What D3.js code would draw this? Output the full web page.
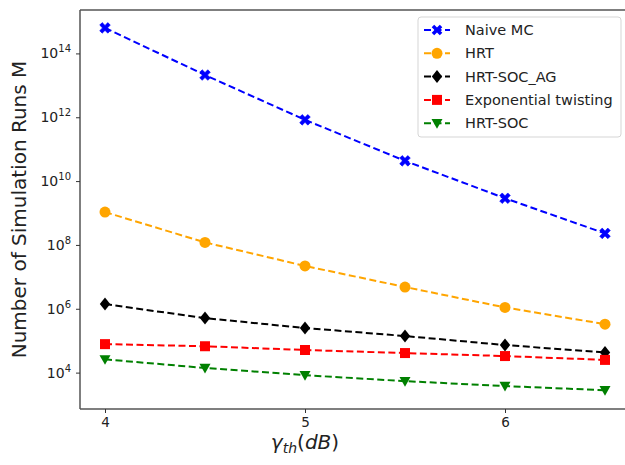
<!DOCTYPE html>
<html>
<head>
<meta charset="utf-8">
<script src="https://cdn.jsdelivr.net/npm/d3@7"></script>
<style>
  body { margin: 0; background: #fff; }
  svg { display: block; font-family: "DejaVu Sans", sans-serif; }
</style>
</head>
<body>
<svg id="chart" width="625" height="465"></svg>
<script>
// Threshold values (dB)
const xValues = [4, 4.5, 5, 5.5, 6, 6.5];

// Number of simulation runs per method
const naiveMC   = [6.3e14, 2.1e13, 8.3e11, 4.3e10, 2.9e9, 2.3e8];
const hrt       = [1.07e9, 1.2e8, 2.2e7, 4.8e6, 1.1e6, 3.3e5];
const hrtSocAg  = [1.4e6, 5.1e5, 2.5e5, 1.4e5, 7.3e4, 4.3e4];
const expTwist  = [7.8e4, 6.7e4, 5.1e4, 4.1e4, 3.3e4, 2.5e4];
const hrtSoc    = [2.6e4, 1.4e4, 8.3e3, 5.4e3, 3.8e3, 2.8e3];

const seriesNames = ["Naive MC", "HRT", "HRT-SOC_AG", "Exponential twisting", "HRT-SOC"];
const xTicks = [4, 5, 6];
const yTickExponents = [4, 6, 8, 10, 12, 14];

const series = [
  { name: seriesNames[0], values: naiveMC,  color: "#0000ff", marker: "x" },
  { name: seriesNames[1], values: hrt,      color: "#ffa500", marker: "circle" },
  { name: seriesNames[2], values: hrtSocAg, color: "#000000", marker: "diamond" },
  { name: seriesNames[3], values: expTwist, color: "#ff0000", marker: "square" },
  { name: seriesNames[4], values: hrtSoc,   color: "#008000", marker: "triangleDown" }
];

const svg = d3.select("#chart");
const plotLeft = 80, plotRight = 630, plotTop = 10, plotBottom = 409;

const x = d3.scaleLinear().domain([3.875, 6.625]).range([plotLeft, plotRight]);
const y = d3.scaleLog().domain([Math.pow(10, 2.86), Math.pow(10, 15.36)]).range([plotBottom, plotTop]);

// Marker path generators centred on (0,0)
function markerPath(type) {
  switch (type) {
    case "x": {
      const a = 5.3, w = 2.5;
      // filled X shape (thick cross rotated 45°)
      const pts = [
        [-a + w, -a], [0, -w], [a - w, -a], [a, -a + w], [w, 0], [a, a - w],
        [a - w, a], [0, w], [-a + w, a], [-a, a - w], [-w, 0], [-a, -a + w]
      ];
      return "M" + pts.map(p => p.join(",")).join("L") + "Z";
    }
    case "circle":
      return d3.symbol(d3.symbolCircle, 95)();
    case "diamond":
      return "M0,-6.5L5.2,0L0,6.5L-5.2,0Z";
    case "square":
      return "M-5,-5L5,-5L5,5L-5,5Z";
    case "triangleDown":
      return "M-5.5,-4.2L5.5,-4.2L0,5.5Z";
  }
}

const plot = svg.append("g");
plot.append("clipPath").attr("id", "clip")
  .append("rect").attr("x", plotLeft).attr("y", plotTop)
  .attr("width", plotRight - plotLeft).attr("height", plotBottom - plotTop);

const content = plot.append("g").attr("clip-path", "url(#clip)");
const line = d3.line().x((d, i) => x(xValues[i])).y(d => y(d));

series.forEach(s => {
  content.append("path")
    .attr("d", line(s.values))
    .attr("fill", "none")
    .attr("stroke", s.color)
    .attr("stroke-width", 2)
    .attr("stroke-dasharray", "7,3.5");
  content.selectAll(null)
    .data(s.values)
    .enter().append("path")
    .attr("d", markerPath(s.marker))
    .attr("transform", (d, i) => `translate(${x(xValues[i])},${y(d)})`)
    .attr("fill", s.color)
    .attr("stroke", s.color)
    .attr("stroke-width", s.marker === "x" ? 0.6 : 0)
    .attr("stroke-linejoin", "round");
});

// Axes frame
const frameColor = "#555";
plot.append("line").attr("x1", plotLeft).attr("x2", plotLeft).attr("y1", plotTop).attr("y2", plotBottom)
  .attr("stroke", frameColor).attr("stroke-width", 1.5);
plot.append("line").attr("x1", plotLeft).attr("x2", plotRight).attr("y1", plotBottom).attr("y2", plotBottom)
  .attr("stroke", frameColor).attr("stroke-width", 1.5);
plot.append("line").attr("x1", plotLeft).attr("x2", plotRight).attr("y1", plotTop).attr("y2", plotTop)
  .attr("stroke", frameColor).attr("stroke-width", 1.5);

// X axis
const xAxis = d3.axisBottom(x).tickValues(xTicks).tickSize(4).tickPadding(4).tickFormat(d3.format("d"));
const gx = svg.append("g").attr("transform", `translate(0,${plotBottom})`).call(xAxis);
gx.select(".domain").remove();
gx.selectAll(".tick line").attr("stroke", "#333");
gx.selectAll(".tick text").attr("font-size", 13.5).attr("fill", "#222").attr("font-family", "DejaVu Sans");

// Y axis (log, labels as 10^n)
const yAxis = d3.axisLeft(y).tickValues(yTickExponents.map(e => Math.pow(10, e))).tickSize(4).tickPadding(4).tickFormat("");
const gy = svg.append("g").attr("transform", `translate(${plotLeft},0)`).call(yAxis);
gy.select(".domain").remove();
gy.selectAll(".tick line").attr("stroke", "#333");
yTickExponents.forEach(e => {
  const t = svg.append("text")
    .attr("x", plotLeft - 9)
    .attr("y", y(Math.pow(10, e)) + 5)
    .attr("text-anchor", "end")
    .attr("font-size", 14)
    .attr("fill", "#222");
  t.append("tspan").text("10");
  t.append("tspan").attr("dy", -6).attr("font-size", 10).text(String(e));
});

// Axis titles
svg.append("text")
  .attr("transform", `translate(26,${(plotTop + plotBottom) / 2}) rotate(-90)`)
  .attr("text-anchor", "middle")
  .attr("font-size", 20)
  .attr("fill", "#222")
  .text("Number of Simulation Runs M");

const xl = svg.append("text")
  .attr("x", 305).attr("y", 449)
  .attr("text-anchor", "middle")
  .attr("font-size", 20)
  .attr("fill", "#222");
xl.append("tspan").attr("font-style", "italic").text("γ");
xl.append("tspan").attr("font-style", "italic").attr("font-size", 14).attr("dy", 4).text("th");
xl.append("tspan").attr("dy", -4).text("(");
xl.append("tspan").attr("font-style", "italic").text("dB");
xl.append("tspan").text(")");

// Legend
const lg = svg.append("g").attr("transform", "translate(418,17)");
lg.append("rect").attr("width", 203).attr("height", 120).attr("rx", 3)
  .attr("fill", "#fff").attr("fill-opacity", 0.8).attr("stroke", "#d5d5d5");
series.forEach((s, i) => {
  const rowY = 13 + i * 23.3;
  const row = lg.append("g").attr("transform", `translate(0,${rowY})`);
  row.append("line").attr("x1", 6).attr("x2", 32).attr("y1", 0).attr("y2", 0)
    .attr("stroke", s.color).attr("stroke-width", 2).attr("stroke-dasharray", "7,3.5");
  row.append("path").attr("d", markerPath(s.marker)).attr("transform", "translate(19,0)").attr("fill", s.color);
  row.append("text").attr("x", 47).attr("y", 5).attr("font-size", 14.5).attr("fill", "#222").text(s.name);
});
</script>
</body>
</html>
